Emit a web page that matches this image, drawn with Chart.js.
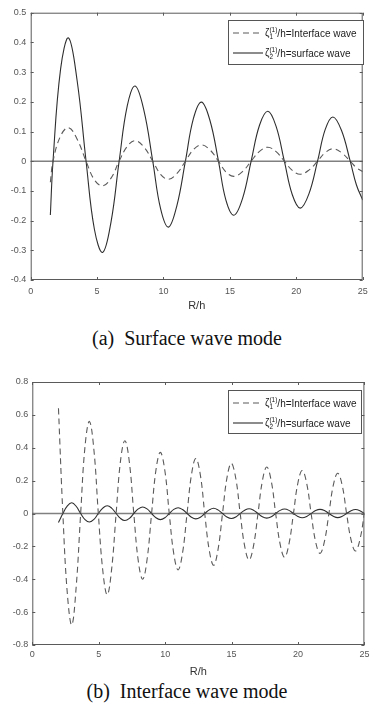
<!DOCTYPE html>
<html lang="en">
<head>
<meta charset="UTF-8" />
<title>Wave elevation vs R/h</title>
<script src="https://cdn.jsdelivr.net/npm/chart.js@4.4.1/dist/chart.umd.min.js"></script>
<style>
   html, body { margin: 0; padding: 0; background: #fff; }
   #page { position: relative; width: 374px; height: 713px; overflow: hidden; }
   .holder { position: absolute; left: 0; }
   .holder canvas { display: block; }
   .caption {
      position: absolute; left: 0; width: 374px; text-align: center;
      font-family: "Liberation Serif", "Times New Roman", serif;
      font-size: 20px; line-height: 20px; color: #111;
   }
</style>
</head>
<body>
<div id="page">
   <div class="holder" style="top:0px"><canvas id="chart_a" width="374" height="315"></canvas></div>
   <div class="caption" style="top:328px">(a)&nbsp; Surface wave mode</div>
   <div class="holder" style="top:360px"><canvas id="chart_b" width="374" height="320"></canvas></div>
   <div class="caption" style="top:681px">(b)&nbsp; Interface wave mode</div>
</div>

<script>
   // legend texts
   const legend_labels = ["/h=Interface wave", "/h=surface wave"];

   // (a) surface wave mode - R/h positions and values
   const r_a = [1.48, 1.68, 2.25, 2.85, 3.5, 4.17, 4.8, 5.42, 6.05, 6.66, 7.27, 7.86, 8.52, 9.19, 9.78, 10.37, 11.0, 11.65, 12.25, 12.86,
      13.5, 14.14, 14.7, 15.3, 15.95, 16.6, 17.23, 17.86, 18.48, 19.1, 19.7, 20.3, 20.95, 21.6, 22.18, 22.76, 23.4, 24.06, 24.53, 25.0];
   const interface_a = [-0.071, 0, 0.085, 0.113, 0.074, 0, -0.063, -0.083, -0.057, 0, 0.05, 0.069, 0.048, 0, -0.044, -0.061, -0.042, 0, 0.039, 0.055,
      0.038, 0, -0.036, -0.051, -0.035, 0, 0.033, 0.047, 0.032, 0, -0.031, -0.044, -0.03, 0, 0.029, 0.042, 0.029, 0, -0.022, -0.035];
   const surface_a = [-0.181, 0, 0.31, 0.415, 0.27, 0, -0.23, -0.307, -0.204, 0, 0.186, 0.253, 0.172, 0, -0.16, -0.222, -0.151, 0, 0.143, 0.199,
      0.137, 0, -0.131, -0.182, -0.126, 0, 0.121, 0.168, 0.117, 0, -0.113, -0.158, -0.11, 0, 0.107, 0.149, 0.104, 0, -0.08, -0.131];

   // (b) interface wave mode
   const r_b = [1.97, 2.30, 2.64, 2.97, 3.30, 3.64, 3.97, 4.30, 4.64, 4.97, 5.31, 5.64, 5.97, 6.31, 6.64, 6.97, 7.31, 7.64, 7.98, 8.31,
      8.64, 8.98, 9.31, 9.64, 9.98, 10.31, 10.65, 10.98, 11.31, 11.65, 11.98, 12.31, 12.65, 12.98, 13.32, 13.65, 13.98, 14.32, 14.65, 14.98,
      15.32, 15.65, 15.99, 16.32, 16.65, 16.99, 17.32, 17.65, 17.99, 18.32, 18.66, 18.99, 19.32, 19.66, 19.99, 20.32, 20.66, 20.99, 21.33, 21.66,
      21.99, 22.33, 22.66, 22.99, 23.33, 23.66, 24.00, 24.33, 24.66, 25.00];
   const interface_b = [0.64, 0, -0.49, -0.678, -0.45, 0, 0.41, 0.56, 0.385, 0, -0.35, -0.495, -0.34, 0, 0.32, 0.443, 0.31, 0, -0.29, -0.40,
      -0.28, 0, 0.265, 0.372, 0.26, 0, -0.245, -0.343, -0.24, 0, 0.235, 0.335, 0.235, 0, -0.223, -0.315, -0.22, 0, 0.215, 0.305,
      0.213, 0, -0.2, -0.283, -0.198, 0, 0.198, 0.283, 0.197, 0, -0.188, -0.266, -0.186, 0, 0.184, 0.262, 0.182, 0, -0.173, -0.243,
      -0.171, 0, 0.172, 0.245, 0.171, 0, -0.162, -0.228, -0.16, 0];
   const surface_b = [-0.055, 0, 0.046, 0.065, 0.044, 0, -0.037, -0.052, -0.036, 0, 0.033, 0.047, 0.033, 0, -0.03, -0.043, -0.03, 0, 0.028, 0.04,
      0.028, 0, -0.026, -0.037, -0.026, 0, 0.025, 0.035, 0.024, 0, -0.023, -0.033, -0.023, 0, 0.022, 0.032, 0.022, 0, -0.021, -0.03,
      -0.021, 0, 0.02, 0.029, 0.02, 0, -0.02, -0.028, -0.02, 0, 0.019, 0.027, 0.019, 0, -0.018, -0.026, -0.018, 0, 0.018, 0.025,
      0.018, 0, -0.017, -0.025, -0.017, 0, 0.017, 0.024, 0.017, 0];

   const pontos = (xs, ys) => xs.map((x, i) => ({ x: x, y: ys[i] }));

   // matlab-like frame: box, inward ticks, zero line and the legend box
   const frame_plugin = {
      id: "frame",
      beforeDatasetsDraw(chart) {
         const ctx = chart.ctx, area = chart.chartArea;
         const y0 = chart.scales.y.getPixelForValue(0);
         ctx.save();
         ctx.strokeStyle = "#808080";
         ctx.lineWidth = 1.6;
         ctx.beginPath();
         ctx.moveTo(area.left, y0);
         ctx.lineTo(area.right, y0);
         ctx.stroke();
         ctx.restore();
      },
      afterDraw(chart, args, opts) {
         const ctx = chart.ctx, area = chart.chartArea;
         const sx = chart.scales.x, sy = chart.scales.y;
         ctx.save();
         ctx.strokeStyle = "#5a5a5a";
         ctx.lineWidth = 1;
         ctx.strokeRect(area.left + 0.5, area.top + 0.5, area.right - area.left - 1, area.bottom - area.top - 1);
         ctx.beginPath();
         sx.ticks.forEach(t => {
            const px = Math.round(sx.getPixelForValue(t.value)) + 0.5;
            ctx.moveTo(px, area.bottom); ctx.lineTo(px, area.bottom - 3);
            ctx.moveTo(px, area.top); ctx.lineTo(px, area.top + 3);
         });
         sy.ticks.forEach(t => {
            const py = Math.round(sy.getPixelForValue(t.value)) + 0.5;
            ctx.moveTo(area.left, py); ctx.lineTo(area.left + 3, py);
            ctx.moveTo(area.right, py); ctx.lineTo(area.right - 3, py);
         });
         ctx.stroke();

         // legend
         const b = opts.box;
         ctx.fillStyle = "#fff";
         ctx.fillRect(b.x, b.y, b.w, b.h);
         ctx.strokeStyle = "#555";
         ctx.strokeRect(b.x + 0.5, b.y + 0.5, b.w, b.h);
         chart.data.datasets.forEach((ds, i) => {
            const ly = b.y + 13 + i * 20;
            ctx.strokeStyle = ds.borderColor;
            ctx.lineWidth = 1.1;
            ctx.setLineDash(ds.borderDash || []);
            ctx.beginPath();
            ctx.moveTo(b.x + 5, ly);
            ctx.lineTo(b.x + 35, ly);
            ctx.stroke();
            ctx.setLineDash([]);

            let tx = b.x + 37;
            ctx.fillStyle = "#222";
            ctx.textBaseline = "alphabetic";
            ctx.font = '10px "Liberation Sans", Arial, sans-serif';
            ctx.fillText("\u03B6", tx, ly + 3);
            tx += ctx.measureText("\u03B6").width;
            ctx.font = '6.5px "Liberation Sans", Arial, sans-serif';
            ctx.fillText("(1)", tx, ly - 1.5);
            const wsup = ctx.measureText("(1)").width;
            ctx.fillText(String(i + 1), tx, ly + 6);
            tx += wsup;
            ctx.font = '10px "Liberation Sans", Arial, sans-serif';
            ctx.fillText(legend_labels[i], tx, ly + 3.5);
         });
         ctx.restore();
      }
   };

   function monta_grafico(id, xs, interf, surf, y_min, y_max, y_step, pads, box) {
      return new Chart(document.getElementById(id), {
         type: "line",
         data: {
            datasets: [
               {
                  label: "Interface wave",
                  data: pontos(xs, interf),
                  borderColor: "#5a5a5a",
                  borderWidth: 1.1,
                  borderDash: [6, 4],
                  pointRadius: 0,
                  tension: 0.4,
               },
               {
                  label: "surface wave",
                  data: pontos(xs, surf),
                  borderColor: "#2e2e2e",
                  borderWidth: 1.1,
                  pointRadius: 0,
                  tension: 0.4,
               },
            ],
         },
         options: {
            responsive: false,
            animation: false,
            devicePixelRatio: 1,
            layout: { padding: { left: 0, right: pads.right, top: pads.top, bottom: 0 } },
            plugins: {
               legend: { display: false },
               tooltip: { enabled: false },
               frame: { box: box },
            },
            scales: {
               x: {
                  type: "linear",
                  min: 0,
                  max: 25,
                  grid: { display: false, drawTicks: false },
                  border: { display: false },
                  ticks: {
                     stepSize: 5,
                     padding: pads.xtick,
                     maxRotation: 0,
                     color: "#555",
                     font: { family: '"Liberation Sans", Arial, sans-serif', size: 9 },
                  },
                  title: {
                     display: true,
                     text: "R/h",
                     color: "#333",
                     font: { family: '"Liberation Sans", Arial, sans-serif', size: 11 },
                     padding: { top: 0, bottom: pads.title },
                  },
                  afterFit(s) { s.height = pads.xh; },
               },
               y: {
                  min: y_min,
                  max: y_max,
                  grid: { display: false, drawTicks: false },
                  border: { display: false },
                  ticks: {
                     stepSize: y_step,
                     padding: pads.ytick,
                     color: "#555",
                     font: { family: '"Liberation Sans", Arial, sans-serif', size: 9 },
                     callback: v => String(+v.toFixed(1)),
                  },
                  afterFit(s) { s.width = pads.left; },
               },
            },
         },
         plugins: [frame_plugin],
      });
   }

   const grafico_a = monta_grafico("chart_a", r_a, interface_a, surface_a, -0.4, 0.5, 0.1,
      { right: 5, top: 12.7, xtick: 6.3, title: 2.4, xh: 35, ytick: 4.5, left: 30.7 },
      { x: 228, y: 20, w: 135, h: 44 });

   const grafico_b = monta_grafico("chart_b", r_b, interface_b, surface_b, -0.8, 0.8, 0.2,
      { right: 4, top: 22, xtick: 4.6, title: 1.4, xh: 35, ytick: 4, left: 32.3 },
      { x: 228, y: 30, w: 133, h: 43 });
</script>
</body>
</html>
